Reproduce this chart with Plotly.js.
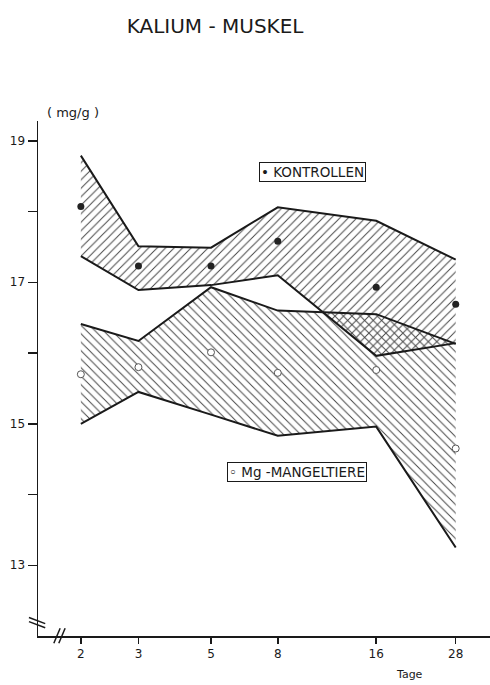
<!DOCTYPE html>
<html>
<head>
<meta charset="utf-8">
<script src="https://cdn.plot.ly/plotly-3.0.1.min.js"></script>
<style>html,body{margin:0;padding:0;background:#fff;}#chart{width:490px;height:685px;}</style>
</head>
<body>
<div id="chart"></div>
<script>
var days = [2, 3, 5, 8, 16, 28];
var dayLabels = ['2', '3', '5', '8', '16', '28'];
var kontrUpper = [18.79, 17.51, 17.49, 18.06, 17.87, 17.32];
var kontrLower = [17.37, 16.89, 16.96, 17.10, 15.96, 16.14];
var kontrMean  = [18.07, 17.23, 17.23, 17.58, 16.93, 16.69];
var mgUpper = [16.41, 16.17, 16.93, 16.60, 16.55, 16.13];
var mgLower = [15.00, 15.45, 15.13, 14.83, 14.96, 13.25];
var mgMean  = [15.70, 15.80, 16.01, 15.72, 15.76, 14.65];
var yTicks = [13, 14, 15, 16, 17, 18, 19];
var yTickLabels = ['13', '', '15', '', '17', '', '19'];

function band(upper, lower) {
  return {
    x: days.concat(days.slice().reverse()),
    y: upper.concat(lower.slice().reverse())
  };
}
var kb = band(kontrUpper, kontrLower);
var mb = band(mgUpper, mgLower);
var font = 'DejaVu Sans, sans-serif';
var ink = '#1a1a1a';

var traces = [
  {x: kb.x, y: kb.y, type: 'scatter', mode: 'none', fill: 'toself',
   fillcolor: 'rgba(0,0,0,0)',
   fillpattern: {shape: '/', fgcolor: '#444', bgcolor: 'rgba(0,0,0,0)', size: 6, solidity: 0.16},
   hoverinfo: 'skip', showlegend: false},
  {x: mb.x, y: mb.y, type: 'scatter', mode: 'none', fill: 'toself',
   fillcolor: 'rgba(0,0,0,0)',
   fillpattern: {shape: '\\', fgcolor: '#444', bgcolor: 'rgba(0,0,0,0)', size: 6, solidity: 0.16},
   hoverinfo: 'skip', showlegend: false},
  {x: days, y: kontrUpper, type: 'scatter', mode: 'lines', line: {color: ink, width: 2}, showlegend: false},
  {x: days, y: kontrLower, type: 'scatter', mode: 'lines', line: {color: ink, width: 2}, showlegend: false},
  {x: days, y: mgUpper, type: 'scatter', mode: 'lines', line: {color: ink, width: 2}, showlegend: false},
  {x: days, y: mgLower, type: 'scatter', mode: 'lines', line: {color: ink, width: 2}, showlegend: false},
  {x: days, y: kontrMean, type: 'scatter', mode: 'markers', name: 'KONTROLLEN',
   marker: {color: '#222', size: 7, symbol: 'circle'}, showlegend: false},
  {x: days, y: mgMean, type: 'scatter', mode: 'markers', name: 'Mg-MANGELTIERE',
   marker: {color: '#fff', size: 7, symbol: 'circle', line: {color: '#555', width: 1}}, showlegend: false}
];

var layout = {
  width: 490, height: 685,
  margin: {l: 38, r: 0, t: 121, b: 49},
  paper_bgcolor: '#fff', plot_bgcolor: '#fff',
  font: {family: font, color: ink, size: 12},
  title: {text: 'KALIUM - MUSKEL', font: {family: font, size: 20, color: ink},
          x: 0.439, xref: 'container', xanchor: 'center', y: 0.962, yref: 'container', yanchor: 'middle'},
  xaxis: {type: 'log', range: [0.17, 1.552], tickmode: 'array', tickvals: days, ticktext: dayLabels,
          showline: true, linecolor: ink, linewidth: 1.5, ticks: 'outside', ticklen: 6, tickwidth: 1.5,
          tickcolor: ink, showgrid: false, zeroline: false, tickfont: {size: 12, family: font}},
  yaxis: {range: [12.0, 19.28], tickmode: 'array', tickvals: yTicks, ticktext: yTickLabels,
          showline: true, linecolor: ink, linewidth: 1.5, ticks: 'outside', ticklen: 9, tickwidth: 1.5,
          tickcolor: ink, showgrid: false, zeroline: false, tickfont: {size: 12, family: font}},
  annotations: [
    {text: '( mg/g )', xref: 'paper', yref: 'paper', x: 0.077, y: 1.016, xanchor: 'center', yanchor: 'middle',
     showarrow: false, font: {size: 13, family: font}},
    {text: 'Tage', xref: 'paper', yref: 'paper', x: 0.823, y: -0.075, xanchor: 'center', yanchor: 'middle',
     showarrow: false, font: {size: 11, family: font}},
    {text: '• KONTROLLEN', xref: 'paper', yref: 'paper', x: 0.608, y: 0.901, xanchor: 'center', yanchor: 'middle',
     showarrow: false, font: {size: 13.5, family: font}, bordercolor: ink, borderwidth: 1, borderpad: 1, bgcolor: '#fff'},
    {text: '◦ Mg -MANGELTIERE', xref: 'paper', yref: 'paper', x: 0.573, y: 0.318, xanchor: 'center', yanchor: 'middle',
     showarrow: false, font: {size: 13.5, family: font}, bordercolor: ink, borderwidth: 1, borderpad: 1, bgcolor: '#fff'}
  ],
  shapes: [
    {type: 'line', xref: 'paper', yref: 'paper', x0: -0.02, x1: 0.016, y0: 0.036, y1: 0.024, line: {color: ink, width: 1.5}},
    {type: 'line', xref: 'paper', yref: 'paper', x0: -0.02, x1: 0.016, y0: 0.028, y1: 0.016, line: {color: ink, width: 1.5}},
    {type: 'line', xref: 'paper', yref: 'paper', x0: 0.035, x1: 0.049, y0: -0.014, y1: 0.015, line: {color: ink, width: 1.5}},
    {type: 'line', xref: 'paper', yref: 'paper', x0: 0.046, x1: 0.060, y0: -0.014, y1: 0.015, line: {color: ink, width: 1.5}}
  ]
};

Plotly.newPlot('chart', traces, layout, {displayModeBar: false, staticPlot: true});
</script>
</body>
</html>
